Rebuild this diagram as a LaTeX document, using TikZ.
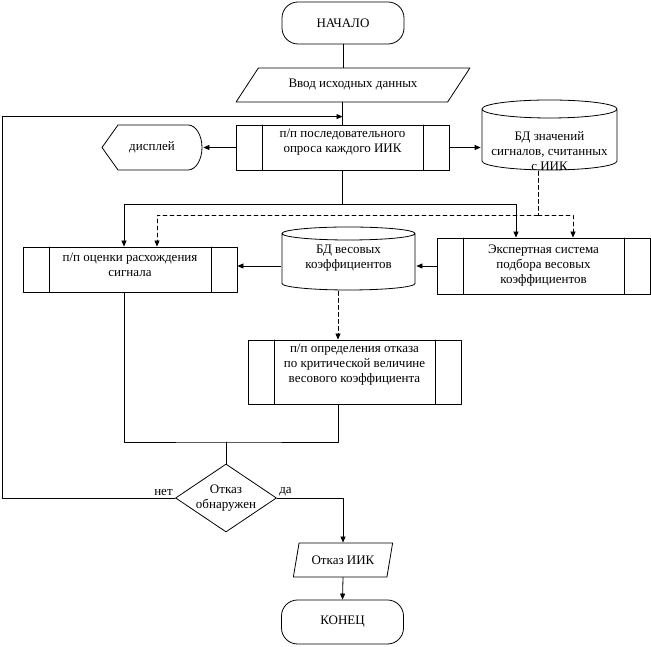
\documentclass[tikz,border=0pt]{standalone}
\usepackage{fontspec}
\setmainfont{Liberation Serif}
\usetikzlibrary{arrows.meta}
\usetikzlibrary{calc}
\usetikzlibrary{shapes.geometric}

\tikzset{
  terminal/.style={draw, rounded corners=16pt, minimum width=122pt, minimum height=42pt, inner sep=0pt},
  iobox/.style={draw, trapezium, trapezium stretches=true, minimum height=34pt, inner sep=0pt},
  subproc/.style={draw, align=center, minimum width=213pt, minimum height=45pt, inner sep=0pt,
    path picture={\draw ([xshift=26pt]path picture bounding box.north west) -- ([xshift=26pt]path picture bounding box.south west)
      ([xshift=-26pt]path picture bounding box.north east) -- ([xshift=-26pt]path picture bounding box.south east);}},
  dbase/.style={align=center, inner sep=0pt,
    path picture={\draw let \p1=(path picture bounding box.south west), \p2=(path picture bounding box.north east),
      \n1={(\x2-\x1)/2-1pt} in
      ({\x1+1pt},{\y2-1pt-#1}) arc[start angle=180, end angle=-180, x radius=\n1, y radius=#1]
      ({\x1+1pt},{\y2-1pt-#1}) -- ({\x1+1pt},{\y1+1pt+#1})
      arc[start angle=180, end angle=360, x radius=\n1, y radius=#1] -- ({\x2-1pt},{\y2-1pt-#1});}},
  screen/.style={minimum width=102pt, minimum height=47pt, inner sep=0pt,
    path picture={\draw let \p1=(path picture bounding box.south west), \p2=(path picture bounding box.north east) in
      ({\x1+1pt},{(\y1+\y2)/2}) -- ({\x1+17pt},{\y2-1pt}) -- ({\x2-15pt},{\y2-1pt})
      arc[start angle=90, end angle=-90, x radius=14pt, y radius={(\y2-\y1)/2-1pt}]
      -- ({\x1+17pt},{\y1+1pt}) -- cycle;}},
  decision/.style={draw, diamond, aspect=1.5, minimum width=101pt, minimum height=68pt, inner sep=0pt, align=center},
  dataflow/.style={dash pattern=on 4pt off 3pt},
}

\begin{document}
\begin{tikzpicture}[line cap=round,line join=round,>={Triangle[length=6pt,width=5pt]},x=1pt,y=1pt,line width=0.8pt,
  font=\fontsize{13}{15}\selectfont]
\useasboundingbox (0,0) rectangle (651,647);
\node[terminal] (start) at (343,624) {НАЧАЛО};
\node[iobox, minimum width=234pt, trapezium left angle=36, trapezium right angle=144] (input) at (353,562) {Ввод исходных данных};
\node[subproc, text depth=13pt] (survey) at (342.5,499.5) {п/п последовательного\\опроса каждого ИИК};
\node[screen] (display) at (152,499.5) {дисплей};
\node[dbase=9pt, minimum width=137pt, minimum height=72pt, text height=72pt, text depth=0pt] (dbv) at (549.5,512) {БД значений\\сигналов, считанных\\с ИИК};
\node[subproc, minimum width=214pt, text depth=9pt] (estim) at (130,377.5) {п/п оценки расхождения\\сигнала};
\node[dbase=6.5pt, minimum width=135pt, minimum height=65pt] (dbw) at (348.5,388.5) {БД весовых\\коэффициентов};
\node[subproc, minimum height=56pt] (expert) at (543.5,381) {Экспертная система\\подбора весовых\\коэффициентов};
\node[subproc, minimum height=64pt, text depth=17pt] (detect) at (354.5,275) {п/п определения отказа\\по критической величине\\весового коэффициента};
\node[decision] (decide) at (226,149) {Отказ\\обнаружен};
\node[iobox, minimum width=100pt, trapezium left angle=65, trapezium right angle=115] (fail) at (343,87) {Отказ ИИК};
\node[terminal, minimum height=44pt] (stop) at (342.5,25) {КОНЕЦ};

\coordinate (loop) at ([yshift=8pt]survey.north);
\coordinate (split) at (342.5,443);
\coordinate (tap) at (538,432);
\coordinate (merge) at (226,205);

\draw (start.south) -- (start.south |- input.north);
\draw (input.south -| survey.north) -- (survey.north);
\draw [->] (survey.west) -- (survey.west -| display.east);
\draw [->] (survey.east) -- (survey.east -| dbv.west);
\draw (survey.south) -- (split);
\draw [->] (split) -| ([xshift=-6pt]estim.north);
\draw [->] (split) -| ([xshift=-27.5pt]expert.north);
\draw [dataflow] ([xshift=-11.5pt]dbv.south) -- (tap);
\draw [dataflow,->] (tap) -| ([xshift=27pt]estim.north);
\draw [dataflow,->] (tap) -| ([xshift=29.5pt]expert.north);
\draw [->] (expert.west) -- (expert.west -| dbw.east);
\draw [->] (expert.west -| dbw.west) -- (expert.west -| estim.east);
\draw [dataflow,->] ([xshift=-10.5pt]dbw.south) -- ([xshift=-10.5pt]dbw.south |- detect.north);
\draw ([xshift=-6pt]estim.south) |- (merge) -| ([xshift=-16.5pt]detect.south);
\draw (merge) -- (decide.north);
\draw [->] (decide.east) node[above right, inner sep=2pt] {да} -| (fail.north);
\draw [->] (decide.west) node[above left, inner sep=2pt] {нет} -- ++(-173,0) |- (loop);
\draw [->] (fail.south) -- (stop.north);
\end{tikzpicture}
\end{document}
